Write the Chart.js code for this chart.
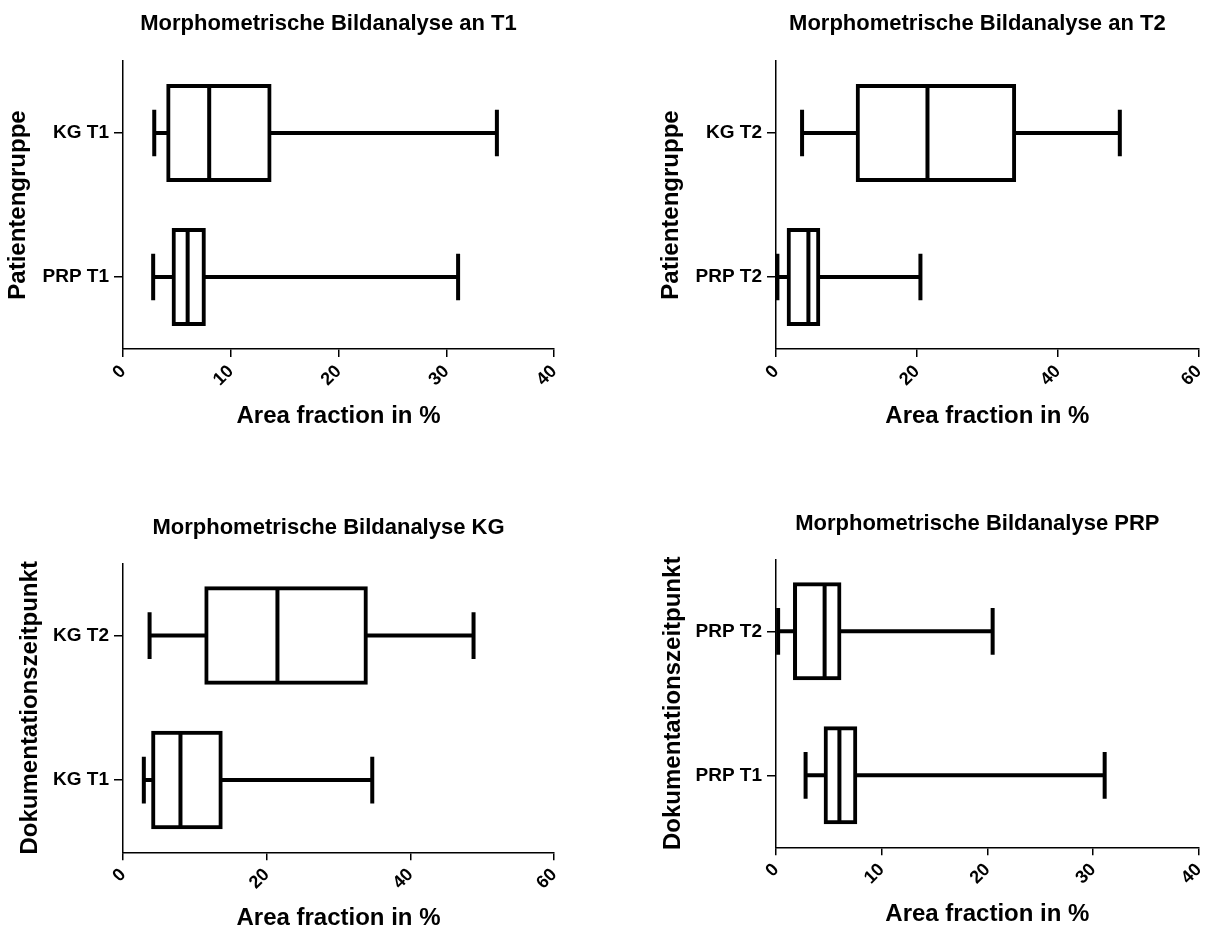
<!DOCTYPE html>
<html>
<head>
<meta charset="utf-8">
<script src="https://cdn.jsdelivr.net/npm/chart.js@4.4.1/dist/chart.umd.min.js"></script>
<style>
html, body { margin: 0; padding: 0; background: #fff; overflow: hidden; width: 1218px; height: 932px; }
.panel { position: absolute; width: 609px; height: 466px; }
canvas { display: block; }
</style>
</head>
<body>
<div class="panel" style="left:0;top:0"><canvas id="c1" width="609" height="466"></canvas></div>
<div class="panel" style="left:609px;top:0"><canvas id="c2" width="609" height="466"></canvas></div>
<div class="panel" style="left:0;top:466px"><canvas id="c3" width="609" height="466"></canvas></div>
<div class="panel" style="left:609px;top:466px"><canvas id="c4" width="609" height="466"></canvas></div>
<script>
// ---- data: [min, Q1, median, Q3, max] (Area fraction in %) ----
const KG_T1 = [2.9, 4.2, 8.0, 13.6, 34.7];
const PRP_T1 = [2.8, 4.7, 6.0, 7.5, 31.1];
const KG_T2 = [3.7, 11.6, 21.5, 33.8, 48.8];
const PRP_T2 = [0.2, 1.8, 4.6, 6.0, 20.5];

// ---- categories (top to bottom) ----
const catsT1 = ['KG T1', 'PRP T1'];
const catsT2 = ['KG T2', 'PRP T2'];
const catsKG = ['KG T2', 'KG T1'];
const catsPRP = ['PRP T2', 'PRP T1'];

// ---- tick labels ----
const ticks40 = [0, 10, 20, 30, 40];
const ticks60 = [0, 20, 40, 60];

// ---- texts ----
const titleT1 = 'Morphometrische Bildanalyse an T1';
const titleT2 = 'Morphometrische Bildanalyse an T2';
const titleKG = 'Morphometrische Bildanalyse KG';
const titlePRP = 'Morphometrische Bildanalyse PRP';
const xAxisTitle = 'Area fraction in %';
const yTitleGroup = 'Patientengruppe';
const yTitleTime = 'Dokumentationszeitpunkt';

const FONT = '"Liberation Sans", Arial, Helvetica, sans-serif';
Chart.defaults.font.family = FONT;
Chart.defaults.color = '#000';

const boxPlugin = {
  id: 'boxWhiskers',
  afterDatasetsDraw(chart) {
    const ctx = chart.ctx;
    const xs = chart.scales.x, ys = chart.scales.y;
    const ds = chart.data.datasets[0];
    const meta = chart.getDatasetMeta(0);
    const band = Math.abs(ys.getPixelForValue(1) - ys.getPixelForValue(0));
    const capHalf = band * 0.324 / 2;
    const px = v => xs.getPixelForValue(v);
    ds.stats.forEach((s, i) => {
      const bar = meta.data[i];
      const yc = bar.y;
      const half = bar.height / 2;
      ctx.save();
      ctx.strokeStyle = '#000';
      ctx.lineWidth = 4;
      ctx.lineCap = 'butt';
      ctx.beginPath();
      ctx.moveTo(px(s[0]), yc); ctx.lineTo(px(s[1]), yc);
      ctx.moveTo(px(s[3]), yc); ctx.lineTo(px(s[4]), yc);
      ctx.moveTo(px(s[0]), yc - capHalf); ctx.lineTo(px(s[0]), yc + capHalf);
      ctx.moveTo(px(s[4]), yc - capHalf); ctx.lineTo(px(s[4]), yc + capHalf);
      ctx.moveTo(px(s[2]), yc - half); ctx.lineTo(px(s[2]), yc + half);
      ctx.stroke();
      ctx.restore();
    });
  }
};

const titlePlugin = {
  id: 'panelTitle',
  afterDraw(chart, args, opts) {
    const ctx = chart.ctx, ca = chart.chartArea;
    ctx.save();
    ctx.font = 'bold 22px ' + FONT;
    ctx.fillStyle = '#000';
    ctx.textAlign = 'center';
    ctx.textBaseline = 'alphabetic';
    ctx.fillText(opts.text, (ca.left + ca.right) / 2 + opts.dx, opts.y);
    ctx.restore();
  }
};

function makePanel(id, cats, stats, xTicks, title, yTitle, geo) {
  const xMin = xTicks[0], xMax = xTicks[xTicks.length - 1];
  new Chart(document.getElementById(id), {
    type: 'bar',
    data: {
      labels: cats,
      datasets: [{
        data: stats.map(s => [s[1], s[3]]),
        stats: stats,
        backgroundColor: '#fff',
        borderColor: '#000',
        borderWidth: 4,
        borderSkipped: false,
        inflateAmount: 2,
        barPercentage: 0.653,
        categoryPercentage: 1
      }]
    },
    options: {
      indexAxis: 'y',
      responsive: false,
      animation: false,
      events: [],
      layout: { padding: { left: 0, right: geo.padRight, top: geo.top, bottom: 0 } },
      plugins: {
        legend: { display: false },
        tooltip: { enabled: false },
        panelTitle: { text: title, dx: -10, y: geo.titleY }
      },
      scales: {
        x: {
          type: 'linear',
          min: xMin, max: xMax,
          afterBuildTicks: s => { s.ticks = xTicks.map(v => ({ value: v })); },
          ticks: { autoSkip: false, minRotation: 45, maxRotation: 45, padding: 4,
                   font: { size: 18, weight: 'bold' }, color: '#000' },
          grid: { drawOnChartArea: false, drawTicks: true, tickLength: 8, color: '#000', lineWidth: 1.5 },
          border: { display: true, color: '#000', width: 1.5 },
          title: { display: true, text: xAxisTitle, color: '#000',
                   font: { size: 24, weight: 'bold', lineHeight: 1 },
                   padding: { top: 0, bottom: geo.xTitlePad } },
          afterFit: s => { s.height = geo.xH; }
        },
        y: {
          type: 'category',
          ticks: { padding: 5, font: { size: 19, weight: 'bold' }, color: '#000' },
          grid: { offset: false, drawOnChartArea: false, drawTicks: true, tickLength: 9, color: '#000', lineWidth: 1.5 },
          border: { display: true, color: '#000', width: 1.5 },
          title: { display: true, text: yTitle, color: '#000',
                   font: { size: 24, weight: 'bold', lineHeight: 1 },
                   padding: { top: geo.yTitlePad, bottom: 0 } },
          afterFit: s => { s.width = geo.yW; }
        }
      }
    },
    plugins: [boxPlugin, titlePlugin]
  });
}

makePanel('c1', catsT1, [KG_T1, PRP_T1], ticks40, titleT1, yTitleGroup,
  { top: 61, xH: 117, padRight: 55, yW: 123, xTitlePad: 37.3, yTitlePad: 6.5, titleY: 30 });
makePanel('c2', catsT2, [KG_T2, PRP_T2], ticks60, titleT2, yTitleGroup,
  { top: 61, xH: 117, padRight: 11, yW: 167, xTitlePad: 38, yTitlePad: 50.6, titleY: 30 });
makePanel('c3', catsKG, [KG_T2, KG_T1], ticks60, titleKG, yTitleTime,
  { top: 97.3, xH: 79.7, padRight: 55, yW: 123, xTitlePad: 1.3, yTitlePad: 18, titleY: 68 });
makePanel('c4', catsPRP, [PRP_T2, PRP_T1], ticks40, titlePRP, yTitleTime,
  { top: 93.3, xH: 84.7, padRight: 11, yW: 167, xTitlePad: 5.5, yTitlePad: 52.4, titleY: 64 });
</script>
</body>
</html>
